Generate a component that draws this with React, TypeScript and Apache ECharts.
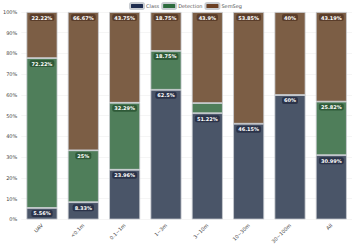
import React, { useEffect, useRef } from "react";
import * as echarts from "echarts";

const categories = ["UAV", "<0.1m", "0.1~1m", "1~3m", "3~10m", "10~30m", "30~100m", "All"];
const classVals = [5.56, 8.33, 23.96, 62.5, 51.22, 46.15, 60, 30.99];
const detVals = [72.22, 25, 32.29, 18.75, 4.88, 0, 0, 25.82];
const segVals = [22.22, 66.67, 43.75, 18.75, 43.9, 53.85, 40, 43.19];
const yTicks = [0, 10, 20, 30, 40, 50, 60, 70, 80, 90, 100];

const fmt = (v: number) => `${v}%`;

export default function App() {
  const ref = useRef<HTMLDivElement>(null);
  useEffect(() => {
    if (!ref.current) return;
    const chart = echarts.init(ref.current, null, { renderer: "svg" });
    const mk = (name: string, vals: number[], color: string, labelBg: string) => ({
      name,
      type: "bar",
      stack: "total",
      barWidth: "75%",
      itemStyle: { color, borderColor: "#c9cdd2", borderWidth: 0.8 },
      label: {
        show: true,
        position: "insideTop",
        distance: 2,
        formatter: (p: any) => fmt(p.value),
        color: "#fff",
        fontSize: 5,
        fontWeight: "bold",
        fontFamily: "DejaVu Sans",
        backgroundColor: labelBg,
        padding: [1, 2],
        borderRadius: 2,
      },
      data: vals.map((v) => ({ value: v, label: { show: v >= 5 } })),
    });
    const series = [
      mk("Class", classVals, "#4a5568", "#2b3349"),
      mk("Detection", detVals, "#4f7e5a", "#2f5a38"),
      mk("SemSeg", segVals, "#7c5e45", "#5a3d2a"),
    ];
    chart.setOption({
      animation: false,
      legend: {
        top: 2,
        left: 129,
        padding: 0,
        itemWidth: 14,
        itemHeight: 6,
        itemGap: 2,
        textStyle: { fontSize: 5, color: "#555", fontFamily: "DejaVu Sans", padding: [0, 0, 0, -3] },
        data: [
          { name: "Class", itemStyle: { color: "#1f2d4f" } },
          { name: "Detection", itemStyle: { color: "#2d6b3e" } },
          { name: "SemSeg", itemStyle: { color: "#6b4024" } },
        ],
      },
      grid: { left: 20, right: 0, top: 12, bottom: 26 },
      xAxis: {
        type: "category",
        data: categories,
        axisLine: { show: false },
        axisTick: { show: false },
        axisLabel: { rotate: 45, fontSize: 5, color: "#444", fontFamily: "DejaVu Sans", margin: 5 },
      },
      yAxis: {
        type: "value",
        min: 0,
        max: 100,
        interval: 10,
        axisLabel: {
          fontSize: 5,
          color: "#444",
          fontFamily: "DejaVu Sans",
          formatter: (v: number) => (yTicks.includes(v) ? `${v}%` : ""),
          margin: 4,
        },
        splitLine: { lineStyle: { color: "#eeeeee", width: 0.6 } },
      },
      series,
    });
    return () => chart.dispose();
  }, []);
  return <div ref={ref} style={{ width: 352, height: 246, position: "absolute", left: 0, top: 0 }} />;
}
